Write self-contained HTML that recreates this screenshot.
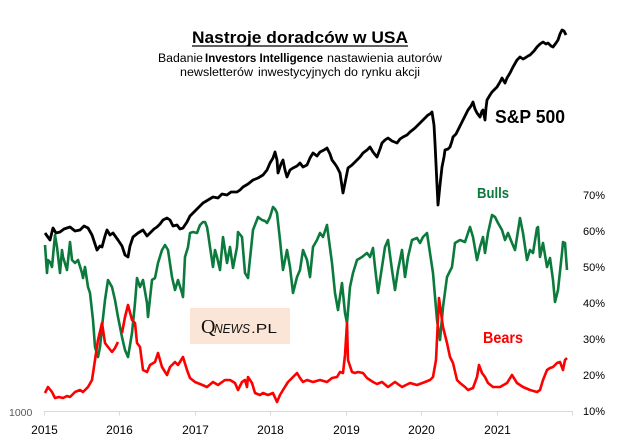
<!DOCTYPE html>
<html><head><meta charset="utf-8"><style>
html,body{margin:0;padding:0;background:#fff;}
svg{display:block;}
text{font-family:"Liberation Sans",Arial,sans-serif;}
</style></head><body>
<svg width="619" height="446" viewBox="0 0 619 446" xmlns="http://www.w3.org/2000/svg">
<rect width="619" height="446" fill="#fff"/>
<!-- titles -->
<text x="192" y="43" font-size="17" font-weight="bold" textLength="216" lengthAdjust="spacingAndGlyphs" fill="#000">Nastroje doradców w USA</text>
<line x1="192" y1="46" x2="408" y2="46" stroke="#000" stroke-width="1.2"/>
<text x="158" y="62" font-size="11.5" textLength="45" lengthAdjust="spacingAndGlyphs" fill="#000">Badanie</text>
<text x="205" y="62" font-size="11.5" font-weight="bold" textLength="118" lengthAdjust="spacingAndGlyphs" fill="#000">Investors Intelligence</text>
<text x="327" y="62" font-size="11.5" textLength="115" lengthAdjust="spacingAndGlyphs" fill="#000">nastawienia autorów</text>
<text x="180" y="76" font-size="11.5" textLength="73" lengthAdjust="spacingAndGlyphs" fill="#000">newsletterów</text>
<text x="258" y="76" font-size="11.5" textLength="162" lengthAdjust="spacingAndGlyphs" fill="#000">inwestycyjnych do rynku akcji</text>

<!-- logo -->
<rect x="190" y="308" width="100" height="36" fill="#fbe5d6"/>
<text x="201" y="333" font-family="Liberation Serif,serif" font-size="20" fill="#111" style="font-family:'Liberation Serif',serif">Q</text>
<text x="214" y="333" font-size="13" font-style="italic" textLength="36" lengthAdjust="spacingAndGlyphs" fill="#111">NEWS</text>
<text x="251" y="333" font-size="13" textLength="26" lengthAdjust="spacingAndGlyphs" fill="#111">.PL</text>

<!-- axis -->
<line x1="44" y1="411.5" x2="573" y2="411.5" stroke="#d9d9d9" stroke-width="1"/>
<g stroke="#d9d9d9" stroke-width="1">
<line x1="44.5" y1="411.5" x2="44.5" y2="415.5"/>
<line x1="119.5" y1="411.5" x2="119.5" y2="415.5"/>
<line x1="195.5" y1="411.5" x2="195.5" y2="415.5"/>
<line x1="270.5" y1="411.5" x2="270.5" y2="415.5"/>
<line x1="346.5" y1="411.5" x2="346.5" y2="415.5"/>
<line x1="421.5" y1="411.5" x2="421.5" y2="415.5"/>
<line x1="497.5" y1="411.5" x2="497.5" y2="415.5"/>
<line x1="572.5" y1="411.5" x2="572.5" y2="415.5"/>
</g>
<g font-size="12" fill="#000" text-anchor="middle">
<text x="44.5" y="434">2015</text>
<text x="119.5" y="434">2016</text>
<text x="195.5" y="434">2017</text>
<text x="270.5" y="434">2018</text>
<text x="346.5" y="434">2019</text>
<text x="421.5" y="434">2020</text>
<text x="497.5" y="434">2021</text>
</g>
<text x="9" y="416" font-size="10.5" fill="#595959">1000</text>
<g font-size="11" fill="#000">
<text x="583" y="199">70%</text>
<text x="583" y="235">60%</text>
<text x="583" y="271">50%</text>
<text x="583" y="307">40%</text>
<text x="583" y="343">30%</text>
<text x="583" y="379">20%</text>
<text x="583" y="415">10%</text>
</g>

<!-- S&P 500 -->
<polyline fill="none" stroke="#000" stroke-width="2.8" stroke-linejoin="round" points="45,233 50,240 53,228 56,233 60,232 64,229 70,227 75,231 80,230 84,226 88,228 92,235 97,250 100,246 102,247 105,236 107,230 110,235 113,233 118,240 122,246 125,255 128,257 130,246 133,237 138,233 143,230 147,236 150,233 154,229 157,227 160,224 163,220 167,218 170,220 173,226 177,225 180,229 183,228 187,222 190,216 193,213 198,208 203,203 208,200 213,197 218,198 222,194 227,195 231,192 237,192 240,190 243,187 248,184 253,180 258,178 263,175 267,170 270,163 273,158 275,152 277,160 278,173 281,164 283,160 285,170 287,177 290,170 293,168 297,166 300,163 303,167 307,165 310,158 313,153 317,156 320,152 324,150 327,148 330,154 332,160 335,164 337,167 340,173 343,193 346,178 348,168 352,165 357,160 360,157 363,153 367,150 370,147 373,152 377,157 380,149 382,143 385,140 388,138 392,141 397,143 400,139 403,137 407,135 410,132 415,128 420,123 424,119 428,115 430,114 432,112 434,125 435,143 437,185 438,205 440,185 442,167 444,157 445,150 448,149 450,147 452,141 453,137 456,134 458,130 461,124 463,120 466,114 468,110 471,106 473,102 475,109 477,113 480,117 482,111 483,110 485,120 486,108 487,100 490,95 492,92 495,89 497,87 500,82 502,78 505,83 507,78 510,73 513,67 517,60 520,57 523,59 525,58 528,56 530,55 534,51 537,47 540,44 543,42 546,44 548,43 551,46 553,47 556,43 558,40 560,34 562,30 564,31 566,35"/>

<!-- Bulls -->
<polyline fill="none" stroke="#0b7a3c" stroke-width="2.6" stroke-linejoin="round" points="45,245 47,273 48,260 50,262 52,267 55,235 57,247 60,273 62,250 63,257 67,270 70,242 72,260 75,263 78,260 82,273 83,278 85,267 88,287 90,293 93,320 95,347 98,357 100,347 102,327 105,300 108,280 112,287 115,300 118,317 122,337 125,350 128,357 132,333 135,303 137,278 140,287 143,280 147,303 148,317 152,280 155,278 158,263 162,250 165,245 168,250 172,277 175,290 178,280 182,293 183,297 185,257 188,247 190,233 193,232 197,233 200,225 203,222 205,222 207,227 208,233 210,247 213,267 215,250 217,257 220,270 223,237 227,263 230,247 233,268 237,247 238,232 242,237 245,273 248,278 253,230 258,217 262,220 265,221 267,223 270,217 273,207 275,209 277,213 280,240 283,270 287,250 290,267 293,293 297,277 300,270 303,250 307,260 310,277 313,247 317,240 320,233 323,237 327,225 328,233 332,263 335,293 338,310 342,283 345,313 347,323 350,287 353,273 357,260 362,257 367,253 370,257 373,248 375,267 378,293 382,267 385,247 388,240 392,270 395,290 398,270 402,250 405,277 408,257 412,240 417,238 420,243 423,237 427,233 430,253 433,273 437,320 440,340 443,307 447,277 452,267 455,243 460,240 465,242 470,227 473,237 477,260 480,247 483,237 485,253 488,233 492,215 495,217 498,223 502,230 505,240 508,233 512,243 515,250 520,218 523,233 527,260 530,250 533,253 537,228 538,227 540,257 543,243 547,267 550,258 553,280 555,302 558,290 562,253 563,242 565,243 567,270"/>

<!-- Bears -->
<polyline fill="none" stroke="#ff0000" stroke-width="2.6" stroke-linejoin="round" points="45,393 48,387 52,392 55,398 59,397 63,398 67,396 70,397 75,392 80,390 83,392 88,387 92,380 95,360 98,340 102,323 105,343 108,347 112,352 115,348 118,342"/>
<polyline fill="none" stroke="#ff0000" stroke-width="2.6" stroke-linejoin="round" points="122,333 125,317 128,305 132,320 135,323 137,343 140,347 143,370 147,372 150,365 155,362 158,353 162,367 167,375 170,367 175,362 178,365 183,357 187,370 190,378 195,382 200,384 207,387 213,382 218,385 225,380 230,380 235,383 238,390 242,382 245,380 247,387 248,377 252,383 255,393 260,395 263,393 268,395 273,393 277,402 280,395 283,390 288,382 293,377 297,373 300,378 303,382 307,380 313,382 320,380 327,382 332,378 337,377 340,372 343,373 345,355 347,323 348,360 352,372 355,373 358,372 363,373 367,378 373,382 377,384 382,382 388,387 395,382 402,387 410,383 417,385 425,382 430,380 433,377 436,360 439,298 441,313 443,327 447,343 450,357 453,363 457,380 460,383 465,387 468,390 473,388 477,377 479,365 482,373 485,377 488,383 493,387 500,387 507,383 512,375 517,383 523,387 530,390 537,392 540,390 543,380 547,370 550,368 553,367 557,363 560,362 563,370 565,360 567,358"/>

<!-- series labels -->
<text x="495" y="123" font-size="18" font-weight="bold" textLength="70" lengthAdjust="spacingAndGlyphs" fill="#000">S&amp;P 500</text>
<text x="477" y="198" font-size="14.5" font-weight="bold" textLength="32" lengthAdjust="spacingAndGlyphs" fill="#0b7a3c">Bulls</text>
<text x="483" y="343" font-size="15.5" font-weight="bold" textLength="40" lengthAdjust="spacingAndGlyphs" fill="#ff0000">Bears</text>
</svg>
</body></html>
